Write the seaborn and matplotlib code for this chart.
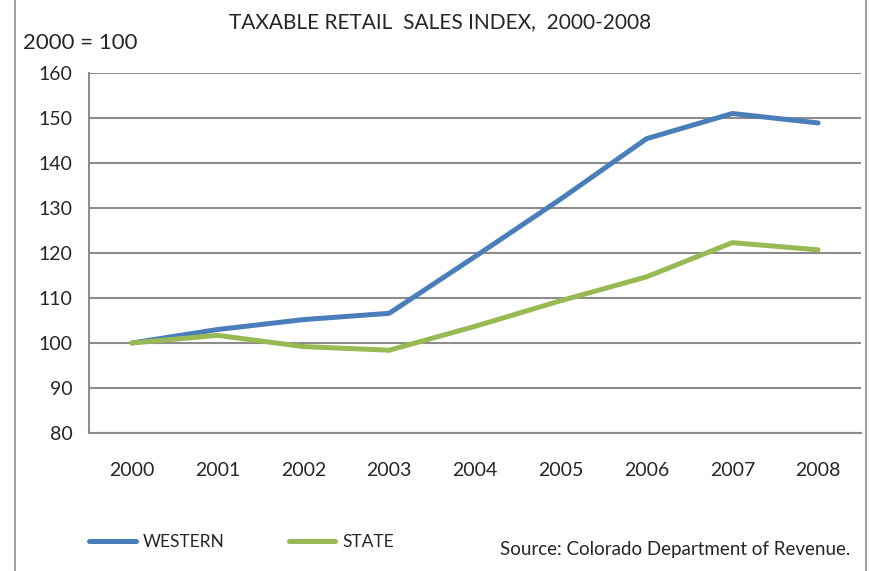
import numpy as np
import pandas as pd
import matplotlib
matplotlib.use("Agg")
import matplotlib.pyplot as plt
import seaborn as sns
from matplotlib.lines import Line2D

years = ["2000", "2001", "2002", "2003", "2004", "2005", "2006", "2007", "2008"]
western = [100.0, 103.0, 105.2, 106.6, 119.2, 132.0, 145.4, 151.0, 148.9]
state = [100.0, 101.7, 99.2, 98.4, 103.7, 109.4, 114.7, 122.3, 120.7]
series_names = ["WESTERN", "STATE"]
colors = ["#4A7EBB", "#98B954"]

df = pd.DataFrame({"year": years * 2,
                   "index": western + state,
                   "series": [series_names[0]] * len(years) + [series_names[1]] * len(years)})
df["pos"] = list(range(len(years))) * 2

sns.set_style("white")
plt.rcParams["font.family"] = ["Lato", "DejaVu Sans"]

fig = plt.figure(figsize=(8.69, 5.71), dpi=100)
ax = fig.add_axes([89 / 869, 1 - 433 / 571, (861 - 89) / 869, (433 - 73) / 571])

sns.lineplot(data=df, x="pos", y="index", hue="series", palette=colors,
             linewidth=3.6, ax=ax, legend=False, solid_capstyle="round")

ax.set_xlim(-0.5, len(years) - 0.5)
ax.set_ylim(80, 160)
ax.set_yticks(np.arange(80, 161, 10))
ax.set_xticks(np.arange(len(years)))
ax.set_xticklabels(years)
ax.set_xticks(np.arange(-0.5, len(years), 1), minor=True)
ax.tick_params(axis="x", which="major", length=0, pad=21, labelsize=14)
ax.tick_params(axis="x", which="minor", length=7, width=1.5, color="#8c8c8c", direction="out")
ax.tick_params(axis="y", length=7, width=1.5, color="#8c8c8c", direction="out", pad=5, labelsize=14)
ax.set_xlabel("")
ax.set_ylabel("")
ax.grid(axis="y", color="#8c8c8c", linewidth=1.5)
ax.set_axisbelow(True)
for s in ["top", "right"]:
    ax.spines[s].set_visible(False)
for s in ["left", "bottom"]:
    ax.spines[s].set_color("#8c8c8c")
    ax.spines[s].set_linewidth(1.5)

fig.text(440 / 869, 1 - 22 / 571, "TAXABLE RETAIL  SALES INDEX,  2000-2008",
         ha="center", va="center", fontsize=15)
fig.text(23 / 869, 1 - 43 / 571, "2000 = 100", ha="left", va="center", fontsize=16)
fig.text(850 / 869, 1 - 549 / 571, "Source: Colorado Department of Revenue.",
         ha="right", va="center", fontsize=13.5)

handles = [Line2D([], [], color=c, linewidth=3.6, solid_capstyle="round") for c in colors]
fig.legend(handles, series_names, loc="center left",
           bbox_to_anchor=(73 / 869, 1 - 542 / 571), ncol=2, frameon=False,
           handlelength=2.7, handletextpad=0.4, columnspacing=3.7, fontsize=12.5)

for x in [15, 866]:
    fig.add_artist(Line2D([x / 869, x / 869], [0, 1], color="#8c8c8c", linewidth=1.2))

fig.savefig("out.png", dpi=100)
